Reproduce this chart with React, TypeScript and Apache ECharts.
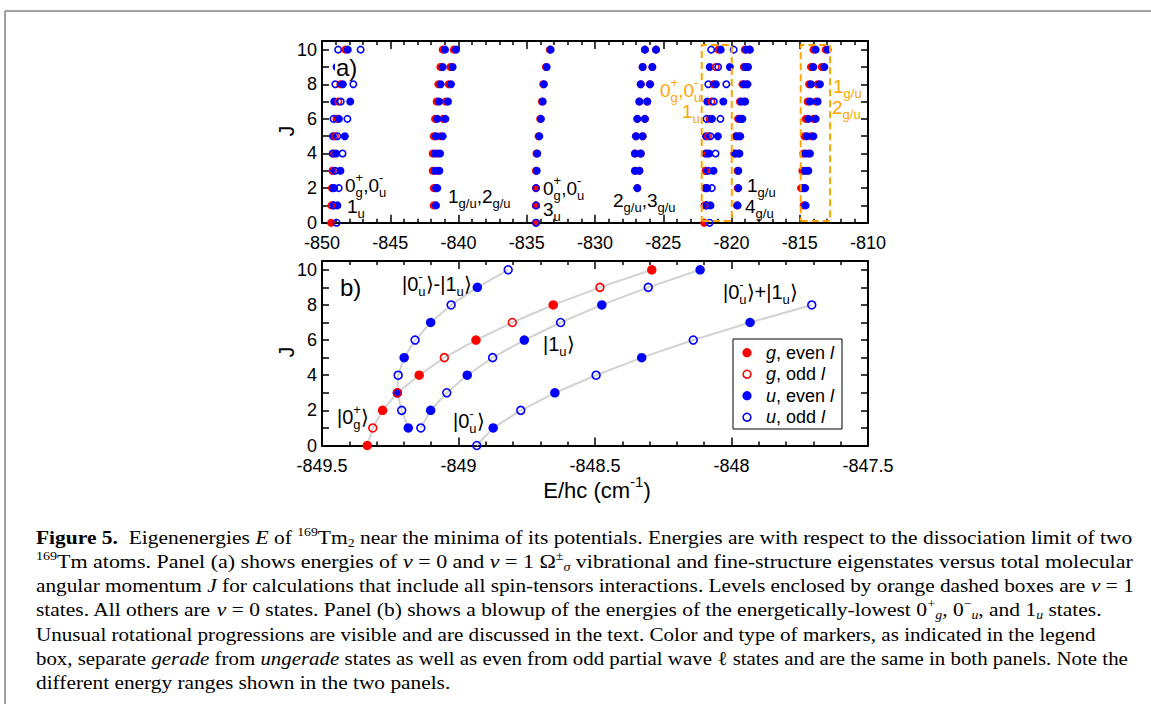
import React, { useEffect, useRef } from 'react';
import * as echarts from 'echarts';

const SANS = "'Liberation Sans', Arial, Helvetica, sans-serif";
const SERIF = "'Liberation Serif', 'Times New Roman', Times, serif";
const RED = '#ff0000';
const BLUE = '#0000ff';
const ORANGE = '#ffa500';
const GREY = '#d2d2d2';

// ---------- axes ----------
const A_XMIN = -850, A_XMAX = -810, A_XSTEP = 5;
const B_XMIN = -849.5, B_XMAX = -847.5, B_XSTEP = 0.5;
const J_MIN = 0, J_MAX = 10.5;

// ---------- v = 0 lowest states (panel b; left cluster of panel a) ----------
// marker classes: ge = g, even l (red filled); go = g, odd l (red open)
//                 ue = u, even l (blue filled); uo = u, odd l (blue open)
const J_0g = [0, 1, 2, 3, 4, 5, 6, 7, 8, 9, 10];
const E_0g = [-849.334, -849.314, -849.278, -849.224, -849.144, -849.052, -848.936, -848.803, -848.653, -848.482, -848.292];
const M_0g = ['ge', 'go', 'ge', 'go', 'ge', 'go', 'ge', 'go', 'ge', 'go', 'ge'];

const J_0m1 = [1, 2, 3, 4, 5, 6, 7, 8, 9, 10];
const E_0m1 = [-849.184, -849.208, -849.224, -849.221, -849.199, -849.159, -849.102, -849.027, -848.931, -848.818];
const M_0m1 = ['ue', 'uo', 'ue', 'uo', 'ue', 'uo', 'ue', 'uo', 'ue', 'uo'];

const J_1u = [1, 2, 3, 4, 5, 6, 7, 8, 9, 10];
const E_1u = [-849.138, -849.102, -849.043, -848.968, -848.875, -848.759, -848.626, -848.475, -848.305, -848.115];
const M_1u = ['uo', 'ue', 'uo', 'ue', 'uo', 'ue', 'uo', 'ue', 'uo', 'ue'];

const J_0u = [0, 1, 2, 3, 4, 5, 6, 7, 8, 9, 10];
const E_0u = [-848.933, -848.873, -848.772, -848.647, -848.496, -848.329, -848.140, -847.932, -847.706, -847.45, -847.17];
const M_0u = ['uo', 'ue', 'uo', 'ue', 'uo', 'ue', 'uo', 'ue', 'uo', 'ue', 'uo'];

// ---------- v = 1 of the same states (first orange box) ----------
const E_0g_v1 = [-822.00, -821.98, -821.95, -821.89, -821.81, -821.72, -821.61, -821.47, -821.32, -821.15, -820.96];
const E_0m1_v1 = [-821.85, -821.88, -821.89, -821.89, -821.87, -821.83, -821.77, -821.70, -821.60, -821.49];
const E_1u_v1 = [-821.81, -821.77, -821.71, -821.64, -821.55, -821.43, -821.30, -821.15, -820.98, -820.79];
const E_0u_v1 = [-821.60, -821.54, -821.44, -821.32, -821.17, -821.00, -820.81, -820.60, -820.38, -820.12, -819.84];

// ---------- 1g/u, 2g/u  v = 0 ----------
const C2a_J = [1, 2, 3, 4, 5, 6, 7, 8, 9, 10];
const C2a_u = [-841.65, -841.65, -841.72, -841.72, -841.65, -841.55, -841.43, -841.31, -841.16, -840.99];
const C2a_g = [-841.82, -841.82, -841.89, -841.89, -841.82, -841.72, -841.60, -841.48, -841.33, -841.16];
const C2b_J = [2, 3, 4, 5, 6, 7, 8, 9, 10];
const C2b_u = [-841.55, -841.40, -841.35, -841.16, -840.96, -840.77, -840.55, -840.43, -840.18];
const C2b_g = [-841.72, -841.57, -841.52, -841.33, -841.13, -840.94, -840.72, -840.60, -840.35];

// ---------- 0g+, 0u-, 3u  v = 0 ----------
const C3_J = [0, 1, 2, 3, 4, 5, 6, 7, 8, 9, 10];
const C3_g = [-834.32, -834.32, -834.32, -834.33, -834.29, -834.14, -834.02, -833.89, -833.80, -833.60, -833.31];
const C3_u = [-834.32, -834.32, -834.32, -834.27, -834.23, -834.08, -833.96, -833.83, -833.74, -833.54, -833.25];
const C3_M = ['uo', 'uo', 'uo', 'ue', 'ue', 'ue', 'ue', 'ue', 'ue', 'ue', 'ue'];

// ---------- 2g/u, 3g/u  v = 0 ----------
const C4a_J = [2, 3, 4, 5, 6, 7, 8, 9, 10];
const C4a_E = [-826.90, -827.07, -827.07, -827.00, -826.90, -826.75, -826.65, -826.51, -826.34];
const C4b_J = [3, 4, 5, 6, 7, 8, 9, 10];
const C4b_E = [-826.75, -826.65, -826.51, -826.34, -826.17, -825.97, -825.80, -825.53];

// ---------- 1g/u, 4g/u  v = 0 ----------
const C6b_J = [1, 2, 3, 4, 5, 6, 7, 8, 9, 10];
const C6b_u = [-819.55, -819.50, -819.50, -819.42, -819.36, -819.20, -819.00, -818.83, -818.79, -818.65];
const C6b_g = [-819.60, -819.55, -819.55, -819.47, -819.41, -819.25, -819.05, -818.88, -818.84, -818.70];
const C6a_J = [4, 5, 6, 7, 8, 9, 10];
const C6a_g = [-819.80, -819.70, -819.52, -819.38, -819.20, -819.10, -819.03];
const C6a_u = [-819.70, -819.60, -819.42, -819.28, -819.10, -819.00, -818.93];

// ---------- 1g/u, 2g/u  v = 1 (second orange box) ----------
const C7a_J = [1, 2, 3, 4, 5, 6, 7, 8, 9, 10];
const C7a_u = [-814.57, -814.75, -814.62, -814.57, -814.49, -814.37, -814.25, -814.18, -814.00, -813.83];
const C7a_g = [-814.72, -814.91, -814.81, -814.74, -814.66, -814.57, -814.42, -814.32, -814.18, -814.00];
const C7b_J = [2, 3, 4, 5, 6, 7, 8, 9, 10];
const C7b_u = [-814.60, -814.37, -814.25, -814.00, -813.83, -813.69, -813.52, -813.20, -812.96];
const C7b_g = [-814.70, -814.50, -814.35, -814.18, -814.00, -813.83, -813.69, -813.39, -813.10];

// ---------- orange dashed boxes (E range, J range) ----------
const BOX1_E = [-822.18, -819.98];
const BOX2_E = [-814.93, -812.78];
const BOX_J = [0.1, 10.27];

// ---------- legend ----------
const LEGEND = [
  { cls: 'ge', text: '{i|g}, even {i|l}' },
  { cls: 'go', text: '{i|g}, odd {i|l}' },
  { cls: 'ue', text: '{i|u}, even {i|l}' },
  { cls: 'uo', text: '{i|u}, odd {i|l}' },
];

// ---------- caption ----------
type Tok = [string, string];
const CAPTION: Tok[][] = [
  [['Figure 5.', 'b'], ['  Eigenenergies ', 'n'], ['E', 'i'], [' of ', 'n'], ['169', 'sup'], ['Tm', 'n'], ['2', 'sub'], [' near the minima of its potentials. Energies are with respect to the dissociation limit of two', 'n']],
  [['169', 'sup'], ['Tm atoms. Panel (a) shows energies of ', 'n'], ['v', 'i'], [' = 0 and ', 'n'], ['v', 'i'], [' = 1 Ω', 'n'], ['±', 'sup'], ['σ', 'subi'], [' vibrational and fine-structure eigenstates versus total molecular', 'n']],
  [['angular momentum ', 'n'], ['J', 'i'], [' for calculations that include all spin-tensors interactions. Levels enclosed by orange dashed boxes are ', 'n'], ['v', 'i'], [' = 1', 'n']],
  [['states. All others are ', 'n'], ['v', 'i'], [' = 0 states. Panel (b) shows a blowup of the energies of the energetically-lowest 0', 'n'], ['+', 'sup'], ['g', 'subi'], [', 0', 'n'], ['−', 'sup'], ['u', 'subi'], [', and 1', 'n'], ['u', 'subi'], [' states.', 'n']],
  [['Unusual rotational progressions are visible and are discussed in the text. Color and type of markers, as indicated in the legend', 'n']],
  [['box, separate ', 'n'], ['gerade', 'i'], [' from ', 'n'], ['ungerade', 'i'], [' states as well as even from odd partial wave ', 'n'], ['ℓ', 'n'], [' states and are the same in both panels. Note the', 'n']],
  [['different energy ranges shown in the two panels.', 'n']],
];
// right ends of justified lines (0 = last line, natural width)
const CAP_RIGHT = [1133, 1133, 1134, 1102, 1097, 1128, 0];
const CAP_Y = [537, 561, 585, 609.5, 634, 658, 682];

type LT = [string, 'n' | 'sup' | 'sub'];
const L_0g0u: LT[] = [['0', 'n'], ['+', 'sup'], ['g', 'sub'], [',', 'n'], ['0', 'n'], ['-', 'sup'], ['u', 'sub']];

export default function App() {
  const ref = useRef<HTMLDivElement>(null);
  useEffect(() => {
    document.body.style.margin = '0';
    const chart = echarts.init(ref.current!, null, { renderer: 'svg', width: 1151, height: 704 });
    const ctx = document.createElement('canvas').getContext('2d')!;
    const measure = (t: string, font: string) => { ctx.font = font; return ctx.measureText(t).width; };

    // ---------- scatter points ----------
    const pa: Record<string, number[][]> = { ge: [], go: [], ue: [], uo: [] };
    const pb: Record<string, number[][]> = { ge: [], go: [], ue: [], uo: [] };
    const addM = (tgt: any, J: number[], E: number[], M: string[]) => E.forEach((e, i) => tgt[M[i]].push([e, J[i]]));
    const addC = (tgt: any, cls: string, J: number[], E: number[]) => E.forEach((e, i) => tgt[cls].push([e, J[i]]));

    [pa, pb].forEach((t) => {
      addM(t, J_0g, E_0g, M_0g); addM(t, J_0m1, E_0m1, M_0m1); addM(t, J_1u, E_1u, M_1u); addM(t, J_0u, E_0u, M_0u);
    });
    addM(pa, J_0g, E_0g_v1, M_0g); addM(pa, J_0m1, E_0m1_v1, M_0m1); addM(pa, J_1u, E_1u_v1, M_1u); addM(pa, J_0u, E_0u_v1, M_0u);
    addC(pa, 'ge', C2a_J, C2a_g); addC(pa, 'ue', C2a_J, C2a_u); addC(pa, 'ge', C2b_J, C2b_g); addC(pa, 'ue', C2b_J, C2b_u);
    addC(pa, 'ge', C3_J, C3_g); addM(pa, C3_J, C3_u, C3_M);
    addC(pa, 'ge', C4a_J, C4a_E); addC(pa, 'ue', C4a_J, C4a_E); addC(pa, 'ge', C4b_J, C4b_E); addC(pa, 'ue', C4b_J, C4b_E);
    addC(pa, 'ge', C6b_J, C6b_g); addC(pa, 'ue', C6b_J, C6b_u); addC(pa, 'ge', C6a_J, C6a_g); addC(pa, 'ue', C6a_J, C6a_u);
    addC(pa, 'ge', C7a_J, C7a_g); addC(pa, 'ue', C7a_J, C7a_u); addC(pa, 'ge', C7b_J, C7b_g); addC(pa, 'ue', C7b_J, C7b_u);

    const zOf: Record<string, number> = { ge: 2, ue: 3, go: 4, uo: 5 };
    const scat = (data: any, cls: string, xi: number, size: number) => {
      const col = cls[0] === 'g' ? RED : BLUE;
      const filled = cls[1] === 'e';
      return {
        type: 'scatter', xAxisIndex: xi, yAxisIndex: xi, data: data[cls], z: zOf[cls], silent: true,
        symbol: 'circle', symbolSize: filled ? size : size - 1.6,
        itemStyle: filled ? { color: col, opacity: 1 } : { color: 'rgba(0,0,0,0)', borderColor: col, borderWidth: 1.6, opacity: 1 },
      };
    };
    const curveLine = (J: number[], E: number[]) => ({
      type: 'line', xAxisIndex: 2, yAxisIndex: 2, symbol: 'none', silent: true, z: 1,
      lineStyle: { color: GREY, width: 2 },
      data: E.map((e, i) => [e, J[i]]).filter((p) => p[0] <= B_XMAX),
    });
    const boxLine = (E: number[]) => ({
      type: 'line', xAxisIndex: 0, yAxisIndex: 0, symbol: 'none', silent: true, z: 6,
      lineStyle: { color: ORANGE, width: 2, type: [7, 4] },
      data: [[E[0], BOX_J[0]], [E[1], BOX_J[0]], [E[1], BOX_J[1]], [E[0], BOX_J[1]], [E[0], BOX_J[0]]],
    });

    // ---------- axes ----------
    const axLine = { show: true, onZero: false, lineStyle: { color: '#000', width: 2 } };
    const tick = { color: '#000', width: 1.5 };
    const xAx = (g: number, pos: string, min: number, max: number, iv: number, lab: boolean) => ({
      type: 'value', gridIndex: g, position: pos, min, max, interval: iv,
      axisLine: axLine, axisTick: { show: true, inside: true, length: 8, lineStyle: tick },
      minorTick: { show: true, splitNumber: 5, length: 4, lineStyle: tick },
      splitLine: { show: false }, minorSplitLine: { show: false },
      axisLabel: { show: lab, color: '#000', fontSize: 18, fontFamily: SANS, margin: 11 },
    });
    const yAx = (g: number, pos: string, lab: boolean) => ({
      type: 'value', gridIndex: g, position: pos, min: J_MIN, max: J_MAX, interval: 1,
      axisLine: axLine, axisTick: { show: true, inside: true, length: 7, lineStyle: tick },
      splitLine: { show: false },
      axisLabel: { show: lab, color: '#000', fontSize: 18, fontFamily: SANS, margin: 5,
        formatter: (v: number) => (v % 2 === 0 ? String(v) : '') },
    });

    // ---------- graphic texts ----------
    const els: any[] = [];
    const txt = (x: number, y: number, t: string, fs: number, color: string, extra: any = {}) => ({
      type: 'text', x, y, z: 50, silent: true,
      style: { text: t, fontSize: fs, fontFamily: SANS, fill: color, align: 'left', verticalAlign: 'middle', ...extra },
    });
    const label = (x0: number, yc: number, toks: LT[], fs: number, color: string, center = false) => {
      const small = Math.round(fs * 0.66);
      const place: any[] = [];
      let x = 0, supX = 0;
      toks.forEach(([t, k], i) => {
        const f = k === 'n' ? fs : small;
        const w = measure(t, `${f}px ${SANS}`);
        if (k === 'n') { place.push([x, yc, t, f]); x += w; }
        else if (k === 'sup') { place.push([x, yc - 0.4 * fs, t, f]); supX = x; x += w; }
        else {
          const stacked = i > 0 && toks[i - 1][1] === 'sup';
          const sx = stacked ? supX : x;
          place.push([sx, yc + 0.37 * fs, t, f]);
          x = stacked ? Math.max(x, sx + w) : x + w;
        }
      });
      const off = center ? x0 - x / 2 : x0;
      place.forEach(([px, py, t, f]) => els.push(txt(off + px, py, t, f, color)));
    };

    // page frame
    els.push({ type: 'line', z: 0, silent: true, shape: { x1: 5, y1: 11, x2: 1151, y2: 11 }, style: { stroke: '#808080', lineWidth: 1.5 } });
    els.push({ type: 'line', z: 0, silent: true, shape: { x1: 5, y1: 11, x2: 5, y2: 704 }, style: { stroke: '#808080', lineWidth: 1.5 } });

    // panel labels
    els.push(txt(335, 67, 'a)', 24, '#000', { backgroundColor: '#fff', lineHeight: 22, padding: [0, 6, 0, 1] }));
    els.push(txt(340, 287, 'b)', 24, '#000'));
    // J axis titles
    [131, 352].forEach((y) => els.push({ type: 'text', x: 286, y, rotation: Math.PI / 2, z: 50, silent: true,
      style: { text: 'J', fontSize: 22, fontFamily: SANS, fill: '#000', align: 'center', verticalAlign: 'middle' } }));
    label(597, 490, [['E/hc (cm', 'n'], ['-1', 'sup'], [')', 'n']], 22, '#000', true);

    // panel (a) state labels
    label(345, 185, L_0g0u, 19, '#000');
    label(347, 206, [['1', 'n'], ['u', 'sub']], 19, '#000');
    label(448, 196, [['1', 'n'], ['g/u', 'sub'], [',', 'n'], ['2', 'n'], ['g/u', 'sub']], 19, '#000');
    label(543, 188, L_0g0u, 19, '#000');
    label(543, 209, [['3', 'n'], ['u', 'sub']], 19, '#000');
    label(613, 200, [['2', 'n'], ['g/u', 'sub'], [',', 'n'], ['3', 'n'], ['g/u', 'sub']], 19, '#000');
    label(747, 185, [['1', 'n'], ['g/u', 'sub']], 19, '#000');
    label(745, 206, [['4', 'n'], ['g/u', 'sub']], 19, '#000');
    label(660, 90, L_0g0u, 19, ORANGE);
    label(682, 111, [['1', 'n'], ['u', 'sub']], 19, ORANGE);
    label(833, 86, [['1', 'n'], ['g/u', 'sub']], 19, ORANGE);
    label(832, 107, [['2', 'n'], ['g/u', 'sub']], 19, ORANGE);

    // panel (b) state labels
    label(402, 284, [['|0', 'n'], ['-', 'sup'], ['u', 'sub'], ['⟩-|1', 'n'], ['u', 'sub'], ['⟩', 'n']], 20, '#000');
    label(337, 417, [['|0', 'n'], ['+', 'sup'], ['g', 'sub'], ['⟩', 'n']], 20, '#000');
    label(543, 344, [['|1', 'n'], ['u', 'sub'], ['⟩', 'n']], 20, '#000');
    label(453, 421, [['|0', 'n'], ['-', 'sup'], ['u', 'sub'], ['⟩', 'n']], 20, '#000');
    label(723, 292, [['|0', 'n'], ['-', 'sup'], ['u', 'sub'], ['⟩+|1', 'n'], ['u', 'sub'], ['⟩', 'n']], 20, '#000');

    // legend box
    els.push({ type: 'rect', z: 40, silent: true, shape: { x: 733, y: 339, width: 109, height: 90 }, style: { fill: '#fff', stroke: '#000', lineWidth: 1 } });
    LEGEND.forEach((it, i) => {
      const y = 352.7 + i * 21.5;
      const col = it.cls[0] === 'g' ? RED : BLUE;
      els.push(it.cls[1] === 'e'
        ? { type: 'circle', z: 41, silent: true, shape: { cx: 747, cy: y, r: 4.6 }, style: { fill: col } }
        : { type: 'circle', z: 41, silent: true, shape: { cx: 747, cy: y, r: 3.9 }, style: { fill: 'none', stroke: col, lineWidth: 1.6 } });
      els.push({ type: 'text', x: 766, y, z: 41, silent: true,
        style: { text: it.text, fontSize: 18, fontFamily: SANS, fill: '#000', align: 'left', verticalAlign: 'middle',
          rich: { i: { fontStyle: 'italic', fontSize: 18, fontFamily: SANS, fill: '#000' } } } });
    });

    // caption
    const CF = 19.5, CS = 12.5;
    const capFont: Record<string, string> = {
      n: `${CF}px ${SERIF}`, b: `bold ${CF}px ${SERIF}`, i: `italic ${CF}px ${SERIF}`,
      sup: `${CS}px ${SERIF}`, sub: `${CS}px ${SERIF}`, subi: `italic ${CS}px ${SERIF}`,
    };
    const capRich: any = {
      n: { fontSize: CF, fontFamily: SERIF, lineHeight: 24, fill: '#000' },
      b: { fontSize: CF, fontFamily: SERIF, fontWeight: 'bold', lineHeight: 24, fill: '#000' },
      i: { fontSize: CF, fontFamily: SERIF, fontStyle: 'italic', lineHeight: 24, fill: '#000' },
      sup: { fontSize: CS, fontFamily: SERIF, lineHeight: 14, verticalAlign: 'top', fill: '#000' },
      sub: { fontSize: CS, fontFamily: SERIF, lineHeight: 14, verticalAlign: 'bottom', fill: '#000' },
      subi: { fontSize: CS, fontFamily: SERIF, fontStyle: 'italic', lineHeight: 14, verticalAlign: 'bottom', fill: '#000' },
    };
    const widths = CAPTION.map((line) => line.reduce((w, [t, k]) => w + measure(t, capFont[k]), 0));
    const scales = widths.map((w, i) => (CAP_RIGHT[i] > 0 ? (CAP_RIGHT[i] - 36) / w : 0));
    const justified = scales.filter((s) => s > 0);
    const meanScale = justified.reduce((a, b) => a + b, 0) / justified.length;
    CAPTION.forEach((line, i) => {
      const s = scales[i] > 0 ? scales[i] : meanScale;
      els.push({ type: 'text', x: 36, y: CAP_Y[i], scaleX: s, z: 50, silent: true,
        style: { text: line.map(([t, k]) => `{${k}|${t}}`).join(''), rich: capRich, align: 'left', verticalAlign: 'middle', fontFamily: SERIF, fontSize: CF } });
    });

    const classes = ['ge', 'ue', 'go', 'uo'];
    const option: any = {
      animation: false,
      backgroundColor: '#fff',
      textStyle: { fontFamily: SANS },
      grid: [
        { left: 322, top: 41, width: 546, height: 181.7 },
        { left: 322, top: 261, width: 546, height: 184.5 },
      ],
      xAxis: [
        xAx(0, 'bottom', A_XMIN, A_XMAX, A_XSTEP, true),
        xAx(0, 'top', A_XMIN, A_XMAX, A_XSTEP, false),
        xAx(1, 'bottom', B_XMIN, B_XMAX, B_XSTEP, true),
        xAx(1, 'top', B_XMIN, B_XMAX, B_XSTEP, false),
      ],
      yAxis: [yAx(0, 'left', true), yAx(0, 'right', false), yAx(1, 'left', true), yAx(1, 'right', false)],
      series: [
        curveLine(J_0g, E_0g), curveLine(J_0m1, E_0m1), curveLine(J_1u, E_1u), curveLine(J_0u, E_0u),
        ...classes.map((c) => scat(pa, c, 0, 8)),
        ...classes.map((c) => scat(pb, c, 2, 9.5)),
        boxLine(BOX1_E), boxLine(BOX2_E),
      ],
      graphic: { elements: els },
    };
    chart.setOption(option);
    return () => chart.dispose();
  }, []);
  return <div ref={ref} style={{ width: 1151, height: 704 }} />;
}
